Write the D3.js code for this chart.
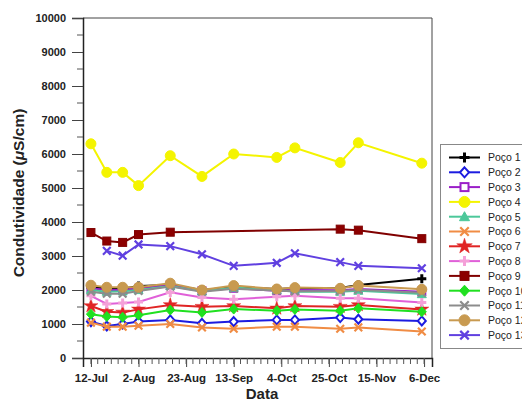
<!DOCTYPE html>
<html><head><meta charset="utf-8">
<script src="https://cdn.jsdelivr.net/npm/d3@7/dist/d3.min.js"></script>
<style>body{margin:0;background:#fff}svg{display:block;font-family:"Liberation Sans",Arial,sans-serif}</style>
</head><body><svg id="c" width="522" height="403"></svg>
<script>
const dates = ["2010-07-12","2010-07-19","2010-07-26","2010-08-02","2010-08-16","2010-08-30","2010-09-13","2010-10-02","2010-10-10","2010-10-30","2010-11-07","2010-12-05"];
const xTickDates = ["2010-07-12","2010-08-02","2010-08-23","2010-09-13","2010-10-04","2010-10-25","2010-11-15","2010-12-06"];
const xTickLabels = ["12-Jul","2-Aug","23-Aug","13-Sep","4-Oct","25-Oct","15-Nov","6-Dec"];
const yTicks = [0,1000,2000,3000,4000,5000,6000,7000,8000,9000,10000];
const seriesNames = ["Poço 1","Poço 2","Poço 3","Poço 4","Poço 5","Poço 6","Poço 7","Poço 8","Poço 9","Poço 10","Poço 11","Poço 12","Poço 13"];
const poco1  = [2080,2050,2040,2120,2150,2000,2080,2030,2050,2060,2150,2330];
const poco2  = [1070,940,1000,1070,1120,1020,1070,1120,1120,1190,1140,1090];
const poco3  = [2050,2000,2000,2050,2150,1980,2050,1980,2000,1990,2030,1950];
const poco4  = [6300,5460,5460,5070,5950,5340,6000,5900,6180,5750,6330,5730];
const poco5  = [2000,1950,1960,2000,2120,1960,2070,2000,1950,1950,1980,1880];
const poco6  = [1040,920,920,950,1000,900,860,920,920,860,900,780];
const poco7  = [1530,1360,1340,1430,1560,1510,1530,1460,1530,1510,1560,1430];
const poco8  = [1830,1590,1620,1650,1930,1780,1730,1800,1830,1760,1760,1630];
const poco9  = [3690,3440,3400,3630,3700,null,null,null,null,3790,3760,3510];
const poco10 = [1290,1220,1200,1260,1410,1340,1440,1390,1430,1390,1460,1360];
const poco11 = [1950,1890,1890,1970,2100,1950,2040,1980,1960,1970,2010,1920];
const poco12 = [2140,2080,2080,2080,2200,2000,2130,2030,2070,2050,2130,2020];
const poco13 = [null,3150,3010,3340,3290,3050,2710,2800,3080,2820,2710,2640];
const seriesValues = [poco1,poco2,poco3,poco4,poco5,poco6,poco7,poco8,poco9,poco10,poco11,poco12,poco13];

const styles = [
 {c:"#000000", m:"plus", f:"#000000"},
 {c:"#1c1ce0", m:"diamondOpen", f:"#ffffff"},
 {c:"#9a1ec8", m:"squareOpen", f:"#ffffff"},
 {c:"#f4f400", m:"circle", f:"#f4f400"},
 {c:"#4cc89a", m:"triangle", f:"#4cc89a"},
 {c:"#f08c44", m:"x", f:"#f08c44"},
 {c:"#e02424", m:"star", f:"#e02424"},
 {c:"#e060d8", m:"plus", f:"#f4a0d8"},
 {c:"#800000", m:"square", f:"#8c0000"},
 {c:"#20e020", m:"diamond", f:"#20e020"},
 {c:"#8c8c8c", m:"x", f:"#8c8c8c"},
 {c:"#c89a50", m:"circle", f:"#c89a50"},
 {c:"#6040e0", m:"x", f:"#6040e0"}
];

const parse = d3.utcParse("%Y-%m-%d");
const svg = d3.select("#c");
const L=83, R=432, T=18, B=358;
const DAY=864e5;
const x = d3.scaleUtc().domain([new Date(parse(dates[0]).getTime()-3.5*DAY), new Date(parse(xTickDates[7]).getTime()+3.5*DAY)]).range([L,R]);
const y = d3.scaleLinear().domain([0,10000]).range([B,T]);

// frame
svg.append("path").attr("d",`M${L},${T}H${R}V${B}`).attr("fill","none").attr("stroke","#444").attr("stroke-width",1);

// y axis
const yAx = svg.append("g").attr("transform",`translate(${L},0)`)
  .call(d3.axisLeft(y).tickValues(yTicks).tickFormat(d3.format("d")).tickSize(11).tickPadding(6));
yAx.select(".domain").attr("stroke","#222").attr("stroke-width",1.5);
yAx.selectAll("text").attr("font-size",11).attr("font-weight","bold").attr("fill","#222");
yAx.selectAll(".tick line").attr("stroke","#444");
const yMinor = d3.range(500,10000,1000);
svg.append("g").selectAll("line").data(yMinor).join("line")
  .attr("x1",L-6).attr("x2",L).attr("y1",d=>y(d)).attr("y2",d=>y(d)).attr("stroke","#555");

// x axis
const xt = xTickDates.map(parse);
const xAx = svg.append("g").attr("transform",`translate(0,${B})`)
  .call(d3.axisBottom(x).tickValues(xt).tickFormat((d,i)=>xTickLabels[i]).tickSize(9).tickPadding(7));
xAx.select(".domain").attr("stroke","#222").attr("stroke-width",1.5);
xAx.selectAll("text").attr("font-size",11.5).attr("font-weight","bold").attr("fill","#222");
xAx.selectAll(".tick line").attr("stroke","#444");
const xMinor = d3.range(0,148,3).map(k=>new Date(xt[0].getTime()+k*DAY));
svg.append("g").selectAll("line").data(xMinor).join("line")
  .attr("x1",d=>x(d)).attr("x2",d=>x(d)).attr("y1",B).attr("y2",B+6).attr("stroke","#555");

// titles
svg.append("text").attr("x",262).attr("y",399).attr("text-anchor","middle").attr("font-size",15).attr("font-weight","bold").attr("fill","#222").text("Data");
const yt = svg.append("text").attr("transform",`translate(24,${(T+B)/2+5}) rotate(-90)`).attr("text-anchor","middle").attr("font-size",15.5).attr("font-weight","bold").attr("fill","#222");
yt.append("tspan").text("Condutividade (");
yt.append("tspan").attr("font-style","italic").text("μ");
yt.append("tspan").text("S/cm)");

function marker(g, type, cx, cy, col, fill, s){
  s = s||4.5;
  if(type==="circle"){ g.append("circle").attr("cx",cx).attr("cy",cy).attr("r",s+0.5).attr("fill",fill).attr("stroke",col).attr("stroke-width",1); }
  else if(type==="square"){ g.append("rect").attr("x",cx-s+0.5).attr("y",cy-s+0.5).attr("width",2*s-1).attr("height",2*s-1).attr("fill",fill).attr("stroke",col); }
  else if(type==="squareOpen"){ g.append("rect").attr("x",cx-s+1).attr("y",cy-s+1).attr("width",2*s-2).attr("height",2*s-2).attr("fill",fill).attr("stroke",col).attr("stroke-width",2); }
  else if(type==="diamond"){ g.append("path").attr("d",`M${cx},${cy-s-0.5}L${cx+s},${cy}L${cx},${cy+s+0.5}L${cx-s},${cy}Z`).attr("fill",fill).attr("stroke",col); }
  else if(type==="diamondOpen"){ g.append("path").attr("d",`M${cx},${cy-s}L${cx+s-0.5},${cy}L${cx},${cy+s}L${cx-s+0.5},${cy}Z`).attr("fill",fill).attr("stroke",col).attr("stroke-width",2); }
  else if(type==="triangle"){ g.append("path").attr("d",`M${cx},${cy-s}L${cx+s},${cy+s*0.8}L${cx-s},${cy+s*0.8}Z`).attr("fill",fill).attr("stroke",col); }
  else if(type==="plus"){ g.append("path").attr("d",`M${cx-s},${cy}H${cx+s}M${cx},${cy-s}V${cy+s}`).attr("stroke",fill).attr("stroke-width",3); }
  else if(type==="x"){ const k=s*0.85; g.append("path").attr("d",`M${cx-k},${cy-k}L${cx+k},${cy+k}M${cx-k},${cy+k}L${cx+k},${cy-k}`).attr("stroke",fill).attr("stroke-width",2.2); }
  else if(type==="star"){ g.append("path").attr("d",d3.symbol(d3.symbolStar, s*s*3)()).attr("transform",`translate(${cx},${cy})`).attr("fill",fill).attr("stroke",col).attr("stroke-width",0.5); }
}

const line = d3.line().defined(d=>d.v!=null).x(d=>x(d.d)).y(d=>y(d.v));
seriesValues.forEach((vals,i)=>{
  const st = styles[i];
  const pts = vals.map((v,j)=>({d:parse(dates[j]),v})).filter(p=>p.v!=null);
  const g = svg.append("g");
  g.append("path").datum(pts).attr("d",line).attr("fill","none").attr("stroke",st.c).attr("stroke-width",2);
  pts.forEach(p=>marker(g, st.m, x(p.d), y(p.v), st.c, st.f));
});

// legend
const lg = svg.append("g");
lg.append("rect").attr("x",440.5).attr("y",144.5).attr("width",100).attr("height",204).attr("fill","#fff").attr("stroke","#888");
seriesNames.forEach((n,i)=>{
  const yy = 157.5 + i*14.8;
  const st = styles[i];
  lg.append("line").attr("x1",449).attr("x2",480).attr("y1",yy).attr("y2",yy).attr("stroke",st.c).attr("stroke-width",2);
  marker(lg, st.m, 464.5, yy, st.c, st.f, 5);
  lg.append("text").attr("x",488).attr("y",yy+3.8).attr("font-size",10.5).attr("fill","#222").text(n);
});
</script></body></html>
